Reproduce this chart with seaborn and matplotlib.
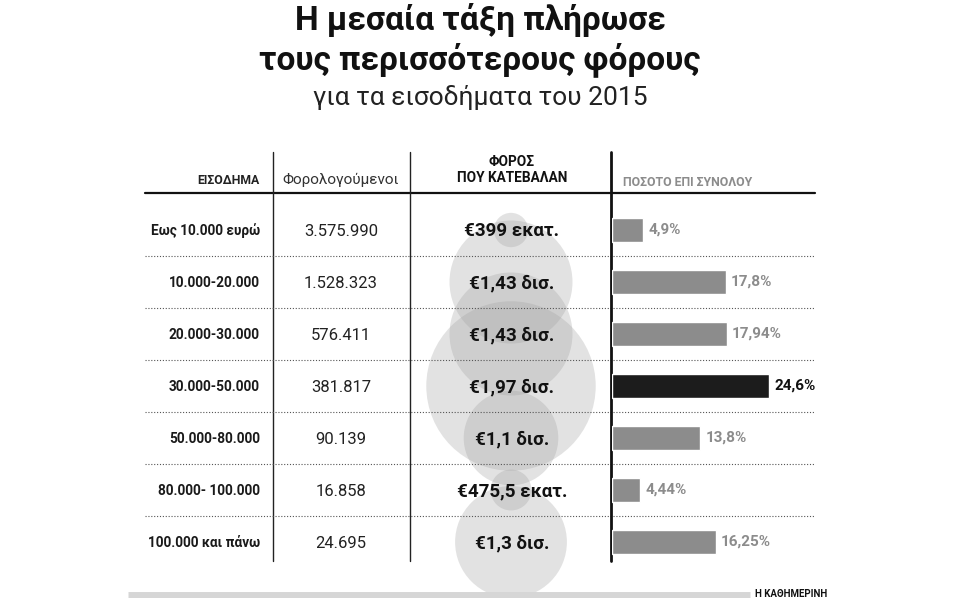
import numpy as np
import pandas as pd
import matplotlib
matplotlib.use("Agg")
import matplotlib.pyplot as plt
import seaborn as sns

# ---------------- data ----------------
income_brackets = ["Εως 10.000 ευρώ", "10.000-20.000", "20.000-30.000", "30.000-50.000",
                   "50.000-80.000", "80.000- 100.000", "100.000 και πάνω"]
taxpayers = ["3.575.990", "1.528.323", "576.411", "381.817", "90.139", "16.858", "24.695"]
tax_labels = ["€399 εκατ.", "€1,43 δισ.", "€1,43 δισ.", "€1,97 δισ.", "€1,1 δισ.",
              "€475,5 εκατ.", "€1,3 δισ."]
tax_billion = [0.399, 1.43, 1.43, 1.97, 1.1, 0.4755, 1.3]
share_pct = [4.9, 17.8, 17.94, 24.6, 13.8, 4.44, 16.25]
share_labels = ["4,9%", "17,8%", "17,94%", "24,6%", "13,8%", "4,44%", "16,25%"]
highlight = "30.000-50.000"

title1 = "Η μεσαία τάξη πλήρωσε"
title2 = "τους περισσότερους φόρους"
subtitle = "για τα εισοδήματα του 2015"
hdr_income = "ΕΙΣΟΔΗΜΑ"
hdr_taxpayers = "Φορολογούμενοι"
hdr_tax = "ΦΟΡΟΣ\nΠΟΥ ΚΑΤΕΒΑΛΑΝ"
hdr_share = "ΠΟΣΟΤΟ ΕΠΙ ΣΥΝΟΛΟΥ"
source = "Η ΚΑΘΗΜΕΡΙΝΗ"

df = pd.DataFrame({"bracket": income_brackets, "share": share_pct})

# ---------------- style ----------------
sns.set_theme(style="white")
plt.rcParams["font.family"] = ["Roboto", "DejaVu Sans"]

W, H = 958, 598
fig = plt.figure(figsize=(W / 100, H / 100), dpi=100)

# full-figure layout axes in pixel units
ax = fig.add_axes([0, 0, 1, 1])
ax.set_xlim(0, W)
ax.set_ylim(H, 0)
ax.axis("off")

n = len(income_brackets)
row0, row_h = 230, 52
rows_y = row0 + row_h * np.arange(n)

# titles
ax.text(480, 20, title1, ha="center", va="center", fontsize=24, fontweight="bold", color="#111111")
ax.text(480, 60, title2, ha="center", va="center", fontsize=24, fontweight="bold", color="#111111")
ax.text(480, 98, subtitle, ha="center", va="center", fontsize=19, color="#222222")

# header
ax.text(260, 181, hdr_income, ha="right", va="center", fontsize=8.8, fontweight="bold", color="#222222")
ax.text(341, 180, hdr_taxpayers, ha="center", va="center", fontsize=11, color="#333333")
ax.text(512, 170, hdr_tax, ha="center", va="center", fontsize=9.8, fontweight="bold",
        color="#111111", linespacing=1.2)
ax.text(623, 182, hdr_share, ha="left", va="center", fontsize=8.8, fontweight="bold", color="#8c8c8c")

# table lines
ax.plot([145, 815], [193, 193], color="#111111", lw=1.6, zorder=3)
for x, lw in [(273, 1.0), (410, 1.0)]:
    ax.plot([x, x], [152, 561], color="#222222", lw=lw, zorder=3)
ax.plot([611, 611], [152, 561], color="#111111", lw=2.0, zorder=6)
for y in rows_y[:-1] + row_h / 2:
    ax.plot([145, 814], [y, y], color="#555555", lw=0.8, linestyle=(0, (1, 1.6)), zorder=3)

# circles (radius proportional to tax paid)
K = 43  # px per billion
sizes = (2 * K * np.array(tax_billion) * 72 / 100) ** 2
ax.scatter(np.full(n, 511), rows_y, s=sizes, color="#a0a0a0", alpha=0.3,
           linewidths=0, zorder=2)

# row texts
for y, lab, cnt, tl in zip(rows_y, income_brackets, taxpayers, tax_labels):
    ax.text(260, y + 1, lab, ha="right", va="center", fontsize=9.8, fontweight="bold", color="#1a1a1a", zorder=5)
    ax.text(341, y + 1, cnt, ha="center", va="center", fontsize=12, color="#222222", zorder=5)
    ax.text(512, y + 1, tl, ha="center", va="center", fontsize=13.5, fontweight="bold", color="#111111", zorder=5)

# footer
ax.plot([128, 750], [595, 595], color="#d6d6d6", lw=5, solid_capstyle="butt")
ax.text(755, 594, source, ha="left", va="center", fontsize=7, fontweight="bold", color="#111111")

# ---------------- bars ----------------
bar_left, bar_right = 612, 815
top_px, bot_px = row0 - row_h / 2, row0 + row_h * (n - 0.5)
px_per_pct = 6.4
axb = fig.add_axes([bar_left / W, 1 - bot_px / H, (bar_right - bar_left) / W, (bot_px - top_px) / H])
axb.patch.set_alpha(0)
palette = ["#1c1c1c" if b == highlight else "#8c8c8c" for b in income_brackets]
sns.barplot(data=df, x="share", y="bracket", hue="bracket", palette=palette, legend=False,
            orient="h", width=0.48, saturation=1, ax=axb)
axb.set_xlim(0, (bar_right - bar_left) / px_per_pct)
axb.set_ylim(n - 0.5, -0.5)
axb.axis("off")
for i, (v, lab, b) in enumerate(zip(share_pct, share_labels, income_brackets)):
    col = "#111111" if b == highlight else "#8c8c8c"
    axb.text(v + 0.8, i, lab, ha="left", va="center", fontsize=11, fontweight="bold", color=col,
             clip_on=False)

fig.savefig("out.png", dpi=100)
